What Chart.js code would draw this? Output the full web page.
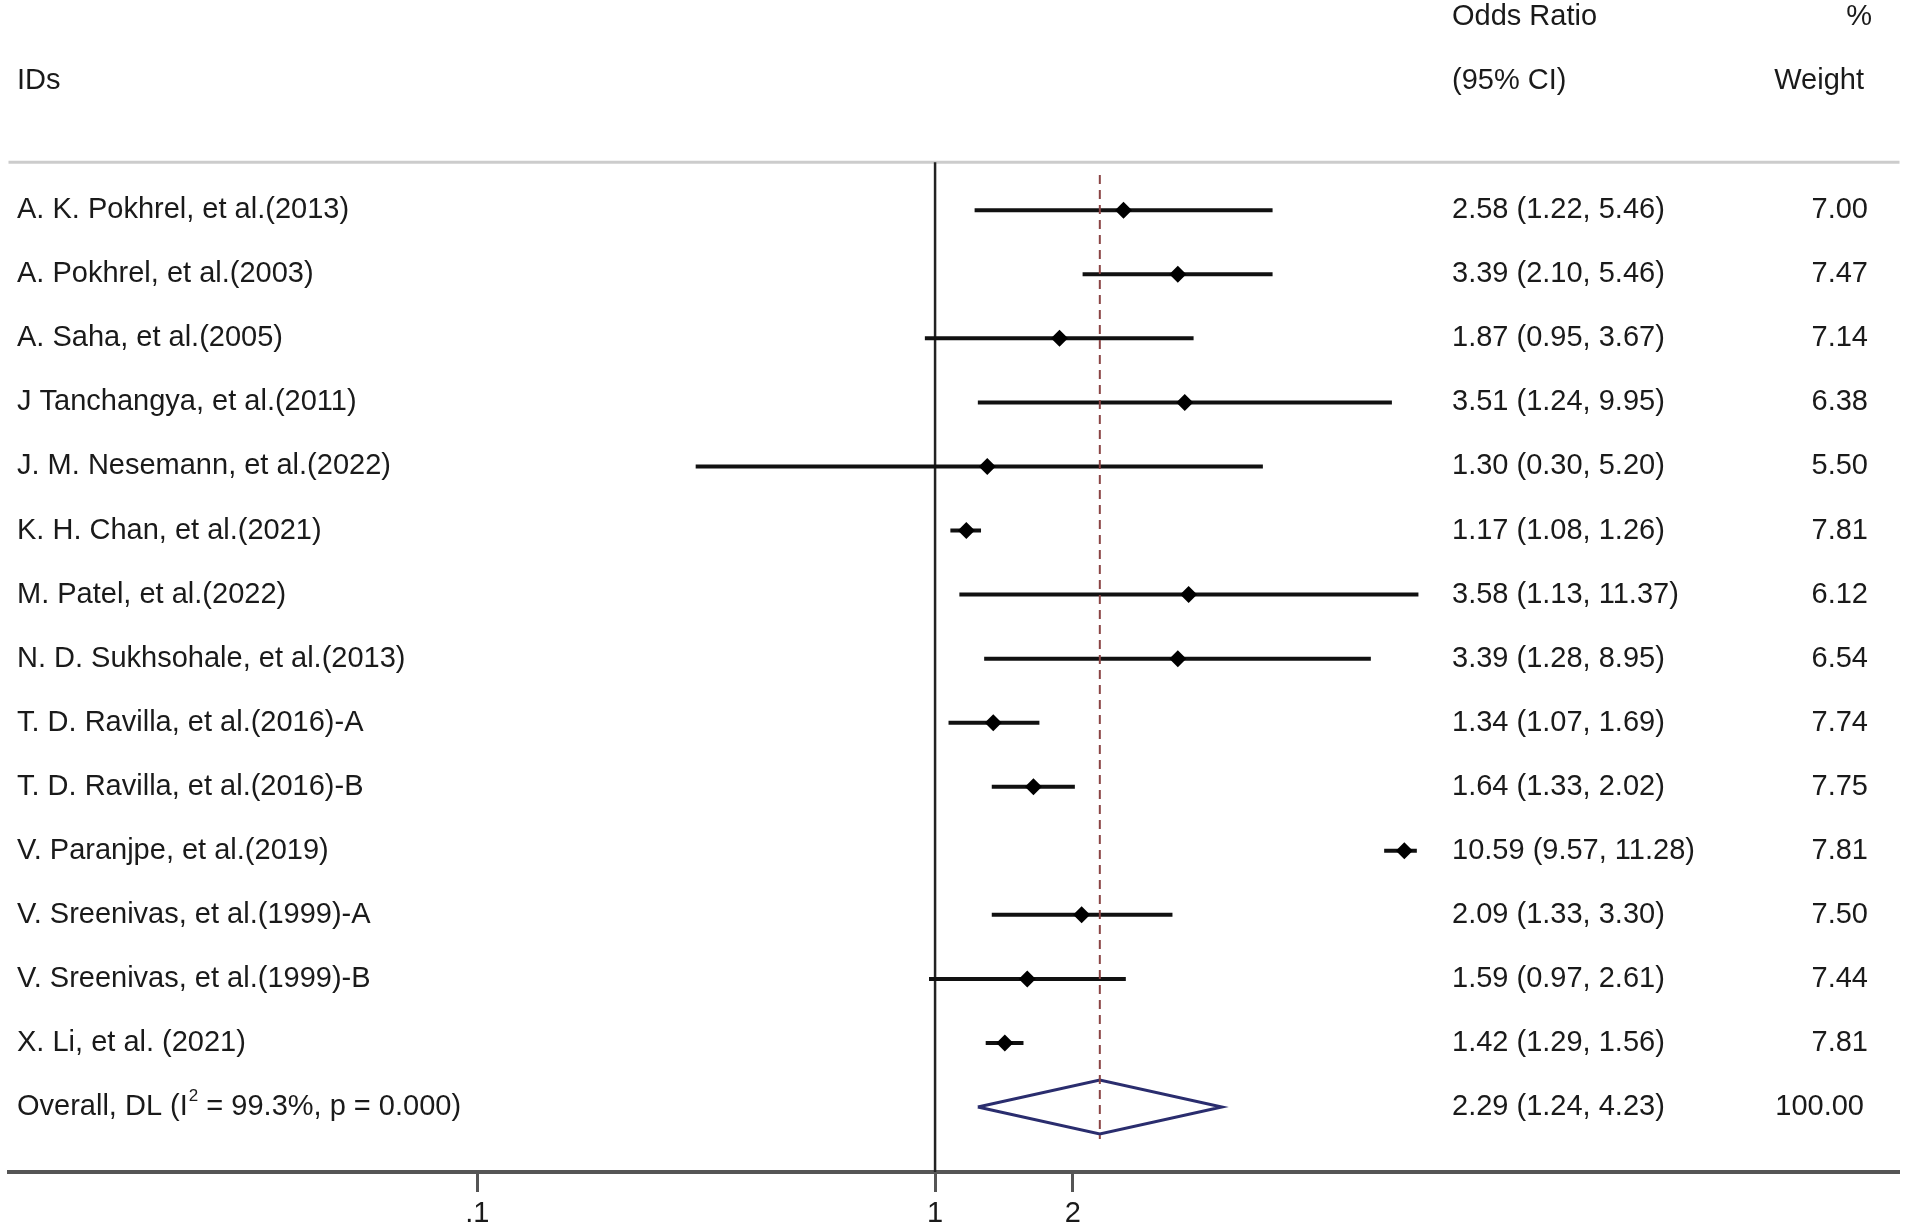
<!DOCTYPE html>
<html>
<head>
<meta charset="utf-8">
<title>Forest plot</title>
<script src="https://cdn.jsdelivr.net/npm/chart.js@4.4.1/dist/chart.umd.min.js"></script>
<style>
  html, body { margin: 0; padding: 0; background: #fff; overflow: hidden; }
  canvas { display: block; }
</style>
</head>
<body>
<!-- canvas a bit taller than the window: the tick labels sit on the bottom edge, as in the original -->
<canvas id="forest" width="1908" height="1235"></canvas>
<script>
// study rows, top to bottom
const studies = [
    'A. K. Pokhrel, et al.(2013)',
    'A. Pokhrel, et al.(2003)',
    'A. Saha, et al.(2005)',
    'J Tanchangya, et al.(2011)',
    'J. M. Nesemann, et al.(2022)',
    'K. H. Chan, et al.(2021)',
    'M. Patel, et al.(2022)',
    'N. D. Sukhsohale, et al.(2013)',
    'T. D. Ravilla, et al.(2016)-A',
    'T. D. Ravilla, et al.(2016)-B',
    'V. Paranjpe, et al.(2019)',
    'V. Sreenivas, et al.(1999)-A',
    'V. Sreenivas, et al.(1999)-B',
    'X. Li, et al. (2021)'
];
const oddsRatio = [2.58, 3.39, 1.87, 3.51, 1.30, 1.17, 3.58, 3.39, 1.34, 1.64, 10.59, 2.09, 1.59, 1.42];
const lowerCI   = [1.22, 2.10, 0.95, 1.24, 0.30, 1.08, 1.13, 1.28, 1.07, 1.33, 9.57, 1.33, 0.97, 1.29];
const upperCI   = [5.46, 5.46, 3.67, 9.95, 5.20, 1.26, 11.37, 8.95, 1.69, 2.02, 11.28, 3.30, 2.61, 1.56];
const weights   = [7.00, 7.47, 7.14, 6.38, 5.50, 7.81, 6.12, 6.54, 7.74, 7.75, 7.81, 7.50, 7.44, 7.81];

// pooled estimate (DerSimonian-Laird)
const pooledOR = 2.29;
const pooledLower = 1.24;
const pooledUpper = 4.23;
const pooledWeight = 100.00;
const pooledI2 = '99.3%';
const pooledP = '0.000';

const tickValues = [0.1, 1, 2];
const tickLabels = ['.1', '1', '2'];

const FONT = '"Liberation Sans", Arial, Helvetica, sans-serif';
const TEXT = '#1a1a1a';
const overallRow = studies.length;
const yMin = -3.149;
const yMax = 15.014;
const ruleRow = -0.75;

function fmt(v) {
    return v.toFixed(2);
}

// text columns, header rule
const forestText = {
    id: 'forestText',
    beforeDatasetsDraw(chart) {
        const ctx = chart.ctx;
        const ruleY = chart.scales.y.getPixelForValue(ruleRow);
        ctx.save();
        ctx.strokeStyle = '#cccccc';
        ctx.lineWidth = 3;
        ctx.beginPath();
        ctx.moveTo(chart.chartArea.left, ruleY);
        ctx.lineTo(chart.chartArea.right, ruleY);
        ctx.stroke();
        ctx.restore();
    },
    afterDraw(chart) {
        const ctx = chart.ctx;
        const ys = chart.scales.y;
        ctx.save();
        ctx.fillStyle = TEXT;
        ctx.font = '29px ' + FONT;
        ctx.textBaseline = 'middle';

        // headers
        ctx.textAlign = 'left';
        ctx.fillText('Odds Ratio', 1452, 17);
        ctx.fillText('IDs', 17, 81);
        ctx.fillText('(95% CI)', 1452, 81);
        ctx.textAlign = 'right';
        ctx.fillText('%', 1872, 17);
        ctx.fillText('Weight', 1864, 81);

        studies.forEach((name, i) => {
            const y = ys.getPixelForValue(i);
            ctx.textAlign = 'left';
            ctx.fillText(name, 17, y);
            ctx.fillText(fmt(oddsRatio[i]) + ' (' + fmt(lowerCI[i]) + ', ' + fmt(upperCI[i]) + ')', 1452, y);
            ctx.textAlign = 'right';
            ctx.fillText(fmt(weights[i]), 1868, y);
        });

        // overall row, with superscript 2
        const oy = ys.getPixelForValue(overallRow);
        ctx.textAlign = 'left';
        let x = 17;
        const part1 = 'Overall, DL (I';
        ctx.fillText(part1, x, oy);
        x += ctx.measureText(part1).width + 1;
        ctx.font = '17px ' + FONT;
        ctx.fillText('2', x, oy - 11);
        x += ctx.measureText('2').width;
        ctx.font = '29px ' + FONT;
        ctx.fillText(' = ' + pooledI2 + ', p = ' + pooledP + ')', x, oy);
        ctx.fillText(fmt(pooledOR) + ' (' + fmt(pooledLower) + ', ' + fmt(pooledUpper) + ')', 1452, oy);
        ctx.textAlign = 'right';
        ctx.fillText(fmt(pooledWeight), 1864, oy);
        ctx.restore();
    }
};

function segment(points, color, width, dash) {
    return {
        data: points,
        showLine: true,
        borderColor: color,
        borderWidth: width,
        borderDash: dash || [],
        borderCapStyle: 'butt',
        pointRadius: 0,
        fill: false,
        tension: 0
    };
}

const datasets = [];

// point estimates (on top)
datasets.push({
    data: oddsRatio.map((v, i) => ({ x: v, y: i })),
    pointStyle: 'rectRot',
    pointRadius: 8.5,
    backgroundColor: '#000',
    borderWidth: 0,
    showLine: false
});

// pooled estimate dashed line
datasets.push(segment([{ x: pooledOR, y: -0.55 }, { x: pooledOR, y: 14.5 }], '#8a4444', 2, [9, 6]));

// confidence intervals
studies.forEach((s, i) => {
    datasets.push(segment([{ x: lowerCI[i], y: i }, { x: upperCI[i], y: i }], '#111', 4));
});

// overall diamond
datasets.push(segment([
    { x: pooledLower, y: overallRow },
    { x: pooledOR, y: overallRow - 0.42 },
    { x: pooledUpper, y: overallRow },
    { x: pooledOR, y: overallRow + 0.42 },
    { x: pooledLower, y: overallRow }
], '#2a2d6e', 3));

// line of no effect
datasets.push(segment([{ x: 1, y: ruleRow }, { x: 1, y: yMax }], '#222', 2.5));

new Chart(document.getElementById('forest'), {
    type: 'scatter',
    data: { datasets: datasets },
    options: {
        responsive: false,
        animation: false,
        events: [],
        layout: { padding: { left: 5, right: 3, top: 0, bottom: 0 } },
        plugins: {
            legend: { display: false },
            tooltip: { enabled: false }
        },
        scales: {
            x: {
                type: 'logarithmic',
                min: 0.009466,
                max: 127.8,
                bounds: 'data',
                afterBuildTicks: (scale) => {
                    scale.ticks = tickValues.map(v => ({ value: v }));
                },
                ticks: {
                    autoSkip: false,
                    maxRotation: 0,
                    padding: 7,
                    color: TEXT,
                    font: { family: FONT, size: 29, lineHeight: 1 },
                    callback: (value) => {
                        const k = tickValues.indexOf(value);
                        return k >= 0 ? tickLabels[k] : '';
                    }
                },
                grid: {
                    drawOnChartArea: false,
                    drawTicks: true,
                    tickLength: 20,
                    tickWidth: 3,
                    tickColor: '#555'
                },
                border: { display: true, color: '#555', width: 4 }
            },
            y: {
                type: 'linear',
                display: false,
                reverse: true,
                min: yMin,
                max: yMax
            }
        }
    },
    plugins: [forestText]
});
</script>
</body>
</html>
